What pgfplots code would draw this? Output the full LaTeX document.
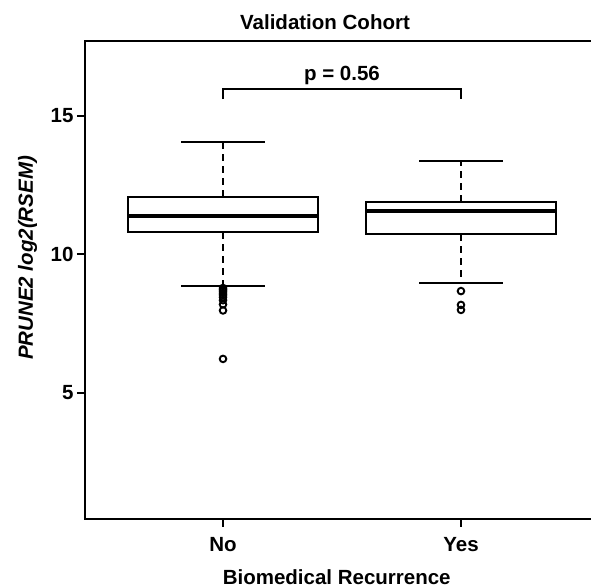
\documentclass[border=0pt]{standalone}
\usepackage{fontspec}
\setmainfont{Liberation Sans}
\usepackage{pgfplots}
\pgfplotsset{compat=1.18}
\begin{document}
\begin{tikzpicture}[font=\fontsize{20.5}{24}\selectfont\bfseries]
\path[use as bounding box, clip] (-85pt,-69pt) rectangle (506pt,519pt);
\begin{axis}[
  at={(0pt,0pt)}, anchor=south west,
  scale only axis, width=514pt, height=478pt,
  xmin=0.42, xmax=2.58, ymin=0.44, ymax=17.70,
  xtick={1,2}, xticklabels={No,Yes},
  ytick={5,10,15},
  tick pos=left, tick align=outside, major tick length=8pt,
  axis line style={line width=2pt},
  every tick/.style={black, line width=2pt},
  /pgf/number format/assume math mode=true,
  ticklabel style={font=\fontsize{20.5}{24}\selectfont\bfseries},
  xticklabel style={anchor=base, yshift=-25pt},
]
% boxes
\addplot[black, line width=2pt] coordinates {(0.6,10.80) (1.4,10.80) (1.4,12.07) (0.6,12.07)} -- cycle;
\addplot[black, line width=2pt] coordinates {(1.6,10.73) (2.4,10.73) (2.4,11.90) (1.6,11.90)} -- cycle;
% medians
\addplot[black, line width=3.5pt] coordinates {(0.6,11.38) (1.4,11.38)};
\addplot[black, line width=3.5pt] coordinates {(1.6,11.56) (2.4,11.56)};
% whiskers
\addplot[black, line width=2pt, dash pattern=on 7pt off 5pt] coordinates {(1,12.07) (1,14.05)};
\addplot[black, line width=2pt, dash pattern=on 7pt off 5pt] coordinates {(1,10.80) (1,8.86)};
\addplot[black, line width=2pt, dash pattern=on 7pt off 5pt] coordinates {(2,11.90) (2,13.36)};
\addplot[black, line width=2pt, dash pattern=on 7pt off 5pt] coordinates {(2,10.73) (2,8.96)};
% caps
\addplot[black, line width=2pt] coordinates {(0.825,14.05) (1.175,14.05)};
\addplot[black, line width=2pt] coordinates {(0.825,8.86) (1.175,8.86)};
\addplot[black, line width=2pt] coordinates {(1.825,13.36) (2.175,13.36)};
\addplot[black, line width=2pt] coordinates {(1.825,8.96) (2.175,8.96)};
% outliers
\addplot[only marks, mark=o, mark size=3.3pt, black, line width=1.9pt] coordinates {
(1,8.78) (1,8.72) (1,8.67) (1,8.60) (1,8.53) (1,8.45) (1,8.34) (1,8.19) (1,7.97) (1,6.22)
(2,8.67) (2,8.17) (2,7.99)};
% p-value bracket
\addplot[black, line width=2pt] coordinates {(1,15.60) (1,15.96) (2,15.96) (2,15.60)};
\node[anchor=base, inner sep=0] at (axis cs:1.5,16.29) {p = 0.56};
\end{axis}
\node[anchor=base, inner sep=0] at (240pt,489.7pt) {Validation Cohort};
\node[anchor=base, inner sep=0] at (251.7pt,-66pt) {Biomedical Recurrence};
\node[rotate=90, anchor=base, inner sep=0] at (-52pt,261pt) {\itshape PRUNE2 log2(RSEM)};
\end{tikzpicture}
\end{document}
